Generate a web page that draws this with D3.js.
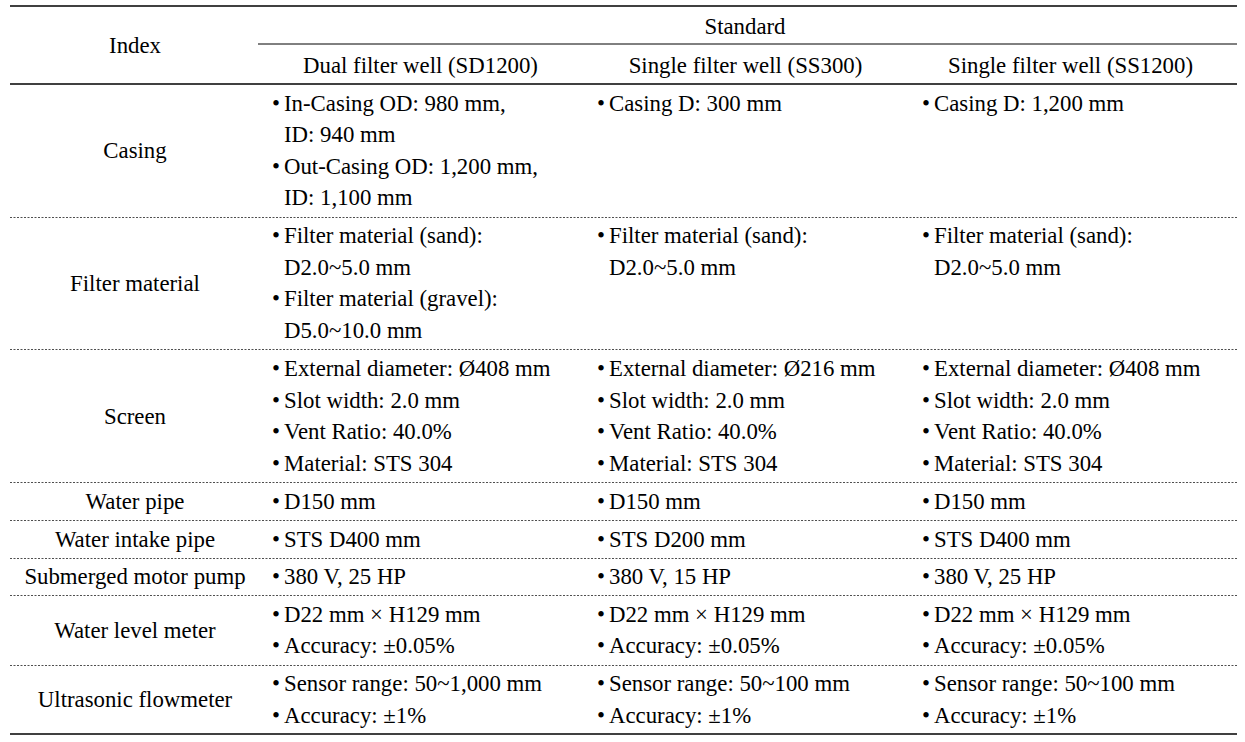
<!DOCTYPE html>
<html>
<head>
<meta charset="utf-8">
<script src="https://cdn.jsdelivr.net/npm/d3@7"></script>
<style>
  body { margin: 0; background: #fff; }
  svg text { font-family: "Liberation Serif", "Times New Roman", serif; font-size: 22.8px; fill: #000; }
</style>
</head>
<body>
<svg id="table" width="1245" height="742"></svg>
<script>
// table content
const groupTitle = "Standard";
const indexTitle = "Index";
const columns = ["Dual filter well (SD1200)", "Single filter well (SS300)", "Single filter well (SS1200)"];
const indexes = ["Casing", "Filter material", "Screen", "Water pipe", "Water intake pipe",
  "Submerged motor pump", "Water level meter", "Ultrasonic flowmeter"];

// each cell: list of bullets, each bullet a list of lines
const dualCells = [
  [["In-Casing OD: 980 mm,", "ID: 940 mm"], ["Out-Casing OD: 1,200 mm,", "ID: 1,100 mm"]],
  [["Filter material (sand):", "D2.0~5.0 mm"], ["Filter material (gravel):", "D5.0~10.0 mm"]],
  [["External diameter: Ø408 mm"], ["Slot width: 2.0 mm"], ["Vent Ratio: 40.0%"], ["Material: STS 304"]],
  [["D150 mm"]],
  [["STS D400 mm"]],
  [["380 V, 25 HP"]],
  [["D22 mm × H129 mm"], ["Accuracy: ±0.05%"]],
  [["Sensor range: 50~1,000 mm"], ["Accuracy: ±1%"]]
];
const ss300Cells = [
  [["Casing D: 300 mm"]],
  [["Filter material (sand):", "D2.0~5.0 mm"]],
  [["External diameter: Ø216 mm"], ["Slot width: 2.0 mm"], ["Vent Ratio: 40.0%"], ["Material: STS 304"]],
  [["D150 mm"]],
  [["STS D200 mm"]],
  [["380 V, 15 HP"]],
  [["D22 mm × H129 mm"], ["Accuracy: ±0.05%"]],
  [["Sensor range: 50~100 mm"], ["Accuracy: ±1%"]]
];
const ss1200Cells = [
  [["Casing D: 1,200 mm"]],
  [["Filter material (sand):", "D2.0~5.0 mm"]],
  [["External diameter: Ø408 mm"], ["Slot width: 2.0 mm"], ["Vent Ratio: 40.0%"], ["Material: STS 304"]],
  [["D150 mm"]],
  [["STS D400 mm"]],
  [["380 V, 25 HP"]],
  [["D22 mm × H129 mm"], ["Accuracy: ±0.05%"]],
  [["Sensor range: 50~100 mm"], ["Accuracy: ±1%"]]
];
const cellsByColumn = [dualCells, ss300Cells, ss1200Cells];

const svg = d3.select("#table");
const left = 10, right = 1237;
const tableTop = 6, headerBottom = 84, tableBottom = 734;
const lineH = 31.5, pad = 6;

// row heights in line units
const nLines = indexes.map((_, i) => d3.max(cellsByColumn, col => d3.sum(col[i], b => b.length)));
const units = nLines.map(n => n + pad / lineH);
const cum = [0, ...d3.cumsum(units)];
const y = d3.scaleLinear().domain([0, cum[cum.length - 1]]).range([headerBottom, tableBottom]);

// columns: index column then three equal data columns
const x = d3.scaleBand().domain(columns).range([258, 1233]);

// rules
svg.append("line").attr("x1", left).attr("x2", right).attr("y1", tableTop).attr("y2", tableTop)
  .attr("stroke", "#000").attr("stroke-width", 1.4);
svg.append("line").attr("x1", 258).attr("x2", right).attr("y1", 44).attr("y2", 44)
  .attr("stroke", "#000").attr("stroke-width", 1);
svg.append("line").attr("x1", left).attr("x2", right).attr("y1", headerBottom).attr("y2", headerBottom)
  .attr("stroke", "#000").attr("stroke-width", 1.4);
svg.append("line").attr("x1", left).attr("x2", right).attr("y1", tableBottom).attr("y2", tableBottom)
  .attr("stroke", "#000").attr("stroke-width", 1.4);
svg.append("g").selectAll("line").data(cum.slice(1, -1)).join("line")
  .attr("x1", left).attr("x2", right)
  .attr("y1", d => Math.round(y(d)) + 0.5).attr("y2", d => Math.round(y(d)) + 0.5)
  .attr("stroke", "#222").attr("stroke-width", 0.8).attr("stroke-dasharray", "2,1.5");

// header text
svg.append("text").attr("x", 745).attr("y", 26).attr("dy", "0.35em")
  .attr("text-anchor", "middle").text(groupTitle);
svg.append("text").attr("x", 135).attr("y", 45).attr("dy", "0.35em")
  .attr("text-anchor", "middle").text(indexTitle);
svg.append("g").selectAll("text").data(columns).join("text")
  .attr("x", d => x(d) + x.bandwidth() / 2).attr("y", 65).attr("dy", "0.35em")
  .attr("text-anchor", "middle").text(d => d);

// index labels
svg.append("g").selectAll("text").data(indexes).join("text")
  .attr("x", 135).attr("y", (d, i) => (y(cum[i]) + y(cum[i + 1])) / 2).attr("dy", "0.35em")
  .attr("text-anchor", "middle").text(d => d);

// cells
const firstLine = (pad / 2) + lineH / 2;
columns.forEach((c, ci) => {
  const bx = x(c) + 14;
  const g = svg.append("g");
  cellsByColumn[ci].forEach((bullets, ri) => {
    let k = 0;
    bullets.forEach(lines => {
      lines.forEach((ln, li) => {
        const yy = y(cum[ri]) + firstLine + k * lineH;
        if (li === 0) {
          g.append("text").attr("x", bx).attr("y", yy).attr("dy", "0.35em").text("•");
        }
        g.append("text").attr("x", bx + 12).attr("y", yy).attr("dy", "0.35em").text(ln);
        k++;
      });
    });
  });
});
</script>
</body>
</html>
